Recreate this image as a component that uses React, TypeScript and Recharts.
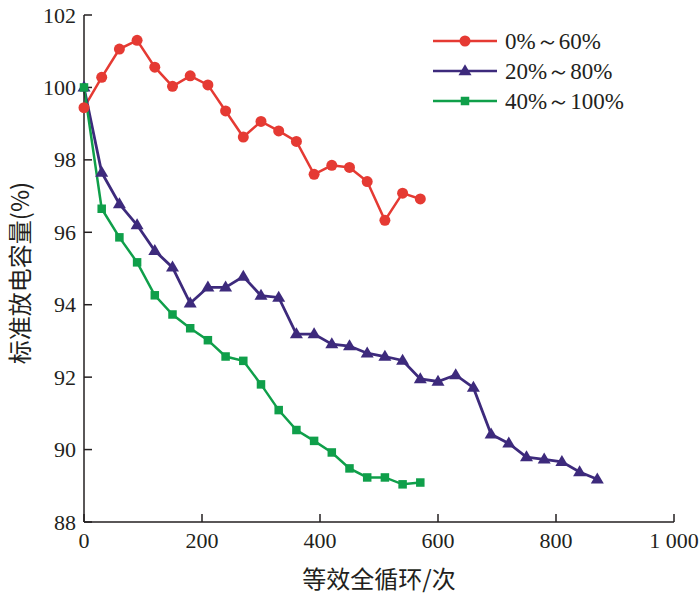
import { LineChart, Line, XAxis, YAxis } from 'recharts'

// equivalent full cycles
const cycles = [
  0, 30, 60, 90, 120, 150, 180, 210, 240, 270, 300, 330, 360, 390, 420,
  450, 480, 510, 540, 570, 600, 630, 660, 690, 720, 750, 780, 810, 840, 870,
]

// normalised discharge capacity (%)
const soc0to60 = [
  99.44, 100.28, 101.06, 101.3, 100.56, 100.03, 100.32, 100.07, 99.35, 98.63,
  99.06, 98.8, 98.51, 97.6, 97.85, 97.79, 97.4, 96.33, 97.08, 96.92,
]
const soc20to80 = [
  100.0, 97.65, 96.78, 96.2, 95.49, 95.03, 94.04, 94.48, 94.48, 94.78,
  94.25, 94.2, 93.19, 93.19, 92.91, 92.86, 92.66, 92.57, 92.46, 91.95,
  91.88, 92.06, 91.71, 90.42, 90.17, 89.79, 89.73, 89.66, 89.38, 89.18,
]
const soc40to100 = [
  100.0, 96.65, 95.86, 95.17, 94.26, 93.73, 93.35, 93.02, 92.57, 92.45,
  91.8, 91.09, 90.54, 90.24, 89.92, 89.48, 89.23, 89.23, 89.04, 89.09,
]

const xTicks = [0, 200, 400, 600, 800, 1000]
const yTicks = [88, 90, 92, 94, 96, 98, 100, 102]

const seriesNames = ['0%～60%', '20%～80%', '40%～100%']

const RED = '#e53a33'
const PURPLE = '#3d2a7c'
const GREEN = '#0f9f4a'
const AXIS = '#231f20'
const SERIF = "'Liberation Serif', serif"
const CJK = "'Noto Sans CJK SC', sans-serif"

const data = cycles.map((c, i) => ({
  cycle: c,
  a: soc0to60[i],
  b: soc20to80[i],
  c: soc40to100[i],
}))

function Circle({ cx, cy, color }: any) {
  if (cx == null || cy == null) return null
  return <circle cx={cx} cy={cy} r={5.5} fill={color} />
}

function Triangle({ cx, cy, color }: any) {
  if (cx == null || cy == null) return null
  const w = 13
  const h = 11
  return (
    <path
      d={`M${cx},${cy - h * 0.62} L${cx + w / 2},${cy + h * 0.38} L${cx - w / 2},${cy + h * 0.38} Z`}
      fill={color}
    />
  )
}

function Square({ cx, cy, color }: any) {
  if (cx == null || cy == null) return null
  const s = 8.5
  return <rect x={cx - s / 2} y={cy - s / 2} width={s} height={s} fill={color} />
}

const legendRows = [
  { name: seriesNames[0], color: RED, Marker: Circle },
  { name: seriesNames[1], color: PURPLE, Marker: Triangle },
  { name: seriesNames[2], color: GREEN, Marker: Square },
]

// legend drawn as svg so the text uses the same font path as the axes
function LegendBox() {
  return (
    <svg width={260} height={100} style={{ position: 'absolute', left: 430, top: 25 }}>
      {legendRows.map((r, i) => {
        const cy = 16 + i * 30
        return (
          <g key={r.name}>
            <line x1={3} x2={67} y1={cy} y2={cy} stroke={r.color} strokeWidth={2.5} />
            <r.Marker cx={35} cy={cy} color={r.color} />
            <text x={75} y={cy + 8} fontSize={23} fontFamily={SERIF} fill={AXIS}>
              {r.name}
            </text>
          </g>
        )
      })}
    </svg>
  )
}

function XTick({ x, y, payload }: any) {
  const v = payload.value
  return (
    <text x={x} y={y + 16} textAnchor="middle" fontSize={22} fontFamily={SERIF} fill={AXIS}>
      {v === 1000 ? '1 000' : v}
    </text>
  )
}

function YTick({ x, y, payload }: any) {
  return (
    <text x={x} y={y + 7.5} textAnchor="end" fontSize={22} fontFamily={SERIF} fill={AXIS}>
      {payload.value}
    </text>
  )
}

export default function App() {
  return (
    <div style={{ position: 'absolute', left: 0, top: 0, width: 700, height: 596, background: '#fff' }}>
      <LineChart
        width={700}
        height={596}
        data={data}
        margin={{ top: 15, right: 26, left: 0, bottom: 0 }}
      >
        <XAxis
          dataKey="cycle"
          type="number"
          domain={[0, 1000]}
          ticks={xTicks}
          interval={0}
          height={74}
          stroke={AXIS}
          strokeWidth={1.5}
          tickSize={-8}
          tickMargin={18}
          tick={<XTick />}
          label={{
            content: () => (
              <text x={379} y={588} textAnchor="middle" fontSize={24} fontFamily={CJK} fill={AXIS}>
                等效全循环/次
              </text>
            ),
          }}
        />
        <YAxis
          type="number"
          domain={[88, 102]}
          ticks={yTicks}
          interval={0}
          width={84}
          stroke={AXIS}
          strokeWidth={1.5}
          tickSize={-8}
          tickMargin={16}
          tick={<YTick />}
          label={{
            content: () => (
              <text
                x={18}
                y={273}
                textAnchor="middle"
                dominantBaseline="central"
                transform="rotate(-90 18 273)"
                fontSize={24}
                fontFamily={CJK}
                fill={AXIS}
              >
                标准放电容量(%)
              </text>
            ),
          }}
        />
        <Line
          dataKey="a"
          name={seriesNames[0]}
          stroke={RED}
          strokeWidth={2.5}
          dot={(p: any) => <Circle key={p.index} cx={p.cx} cy={p.cy} color={RED} />}
          activeDot={false}
          isAnimationActive={false}
        />
        <Line
          dataKey="b"
          name={seriesNames[1]}
          stroke={PURPLE}
          strokeWidth={2.8}
          dot={(p: any) => <Triangle key={p.index} cx={p.cx} cy={p.cy} color={PURPLE} />}
          activeDot={false}
          isAnimationActive={false}
        />
        <Line
          dataKey="c"
          name={seriesNames[2]}
          stroke={GREEN}
          strokeWidth={2.5}
          dot={(p: any) => <Square key={p.index} cx={p.cx} cy={p.cy} color={GREEN} />}
          activeDot={false}
          isAnimationActive={false}
        />
      </LineChart>
      <LegendBox />
    </div>
  )
}
